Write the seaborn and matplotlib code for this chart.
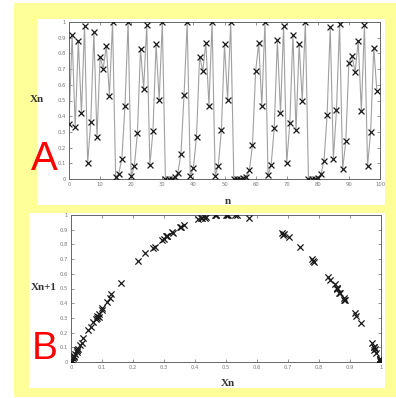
import numpy as np
import pandas as pd
import matplotlib
matplotlib.use("Agg")
import matplotlib.pyplot as plt
from matplotlib.patches import Rectangle
import seaborn as sns

sns.set_theme(style="white")
plt.rcParams['font.family'] = ['DejaVu Sans']

# ---- data ----
n_values = list(range(100))
x_values = [0.35, 0.915, 0.33, 0.88, 0.42, 0.977, 0.10, 0.365, 0.934, 0.265,
            0.777, 0.703, 0.85, 0.53, 0.998, 0.01, 0.034, 0.13, 0.465, 0.998,
            0.02, 0.08, 0.293, 0.83, 0.575, 0.98, 0.09, 0.305, 0.857, 0.503,
            0.999, 0.0002, 0.0006, 0.0025, 0.01, 0.04, 0.16, 0.537, 0.998, 0.02,
            0.07, 0.27, 0.78, 0.687, 0.868, 0.467, 0.998, 0.02, 0.085, 0.31,
            0.857, 0.505, 1.0, 0.0001, 0.0002, 0.0009, 0.0035, 0.014, 0.055, 0.216,
            0.685, 0.866, 0.467, 0.998, 0.023, 0.09, 0.327, 0.883, 0.422, 0.977,
            0.10, 0.355, 0.919, 0.31, 0.857, 0.50, 1.0, 0.0001, 0.0005, 0.002,
            0.008, 0.03, 0.115, 0.41, 0.97, 0.127, 0.437, 0.985, 0.064, 0.24,
            0.74, 0.785, 0.68, 0.88, 0.433, 0.978, 0.085, 0.30, 0.836, 0.56]
a_xticks = [0, 10, 20, 30, 40, 50, 60, 70, 80, 90, 100]
a_xticklabels = ["0", "10", "20", "30", "40", "50", "60", "70", "80", "90", "100"]
unit_ticks = [0, 0.1, 0.2, 0.3, 0.4, 0.5, 0.6, 0.7, 0.8, 0.9, 1.0]
unit_ticklabels = ["0", "0.1", "0.2", "0.3", "0.4", "0.5", "0.6", "0.7", "0.8", "0.9", "1"]

df_a = pd.DataFrame({"n": n_values, "x": x_values})
df_b = pd.DataFrame({"xn": x_values[:-1], "xn1": x_values[1:]})

W, H = 396, 398
fig = plt.figure(figsize=(W / 100, H / 100), dpi=100)
fig.patch.set_facecolor("white")

def frect(x0, y0, x1, y1, color, z):
    fig.patches.append(Rectangle((x0 / W, 1 - y1 / H), (x1 - x0) / W, (y1 - y0) / H,
                                 transform=fig.transFigure, facecolor=color,
                                 edgecolor="none", zorder=z))

frect(14, 3, 396, 397, "#FFFF99", -3)
frect(37, 19, 385, 205, "white", -2)
frect(29, 213, 385, 388, "white", -2)

def add_ax(x0, y0, x1, y1):
    return fig.add_axes([x0 / W, 1 - y1 / H, (x1 - x0) / W, (y1 - y0) / H])

def style(ax):
    ax.set_facecolor("white")
    for s in ax.spines.values():
        s.set_color("#666666")
        s.set_linewidth(0.7)
    ax.tick_params(direction="in", length=2.5, width=0.5, color="#666666",
                   labelsize=3.8, labelcolor="#777777", pad=2.5,
                   top=True, right=True, bottom=True, left=True)
    ax.set_xlabel("")
    ax.set_ylabel("")

# Panel A
axA = add_ax(69, 22, 380, 179)
sns.lineplot(data=df_a, x="n", y="x", ax=axA, color="#a0a0a0", linewidth=0.8)
sns.scatterplot(data=df_a, x="n", y="x", ax=axA, marker="x", color="#1a1a1a",
                s=18, linewidth=0.9, zorder=3)
axA.set_xlim(0, 100)
axA.set_ylim(0, 1)
axA.set_xticks(a_xticks)
axA.set_xticklabels(a_xticklabels)
axA.set_yticks(unit_ticks)
axA.set_yticklabels(unit_ticklabels)
style(axA)

# Panel B
axB = add_ax(71, 215, 381, 362)
sns.scatterplot(data=df_b, x="xn", y="xn1", ax=axB, marker="x", color="#1a1a1a",
                s=20, linewidth=0.9, zorder=3)
axB.set_xlim(0, 1)
axB.set_ylim(0, 1)
axB.set_xticks(unit_ticks)
axB.set_xticklabels(unit_ticklabels)
axB.set_yticks(unit_ticks)
axB.set_yticklabels(unit_ticklabels)
style(axB)

serif = ["Liberation Serif", "DejaVu Serif"]
fig.text(37 / W, 1 - 99 / H, "Xn", family=serif, fontsize=8, fontweight="bold",
         color="#333333", ha="center", va="center", zorder=5)
fig.text(228 / W, 1 - 201 / H, "n", family=serif, fontsize=8, fontweight="bold",
         color="#333333", ha="center", va="center", zorder=5)
fig.text(44 / W, 1 - 287 / H, "Xn+1", family=serif, fontsize=8, fontweight="bold",
         color="#333333", ha="center", va="center", zorder=5)
fig.text(228 / W, 1 - 383 / H, "Xn", family=serif, fontsize=8, fontweight="bold",
         color="#333333", ha="center", va="center", zorder=5)

sans = ["Liberation Sans", "DejaVu Sans"]
fig.text(44 / W, 1 - 159 / H, "A", family=sans, fontsize=29, color="#FF0000",
         ha="center", va="center", zorder=6)
fig.text(45 / W, 1 - 349 / H, "B", family=sans, fontsize=28, color="#FF0000",
         ha="center", va="center", zorder=6)

fig.savefig("out.png", dpi=100, facecolor=fig.get_facecolor())
